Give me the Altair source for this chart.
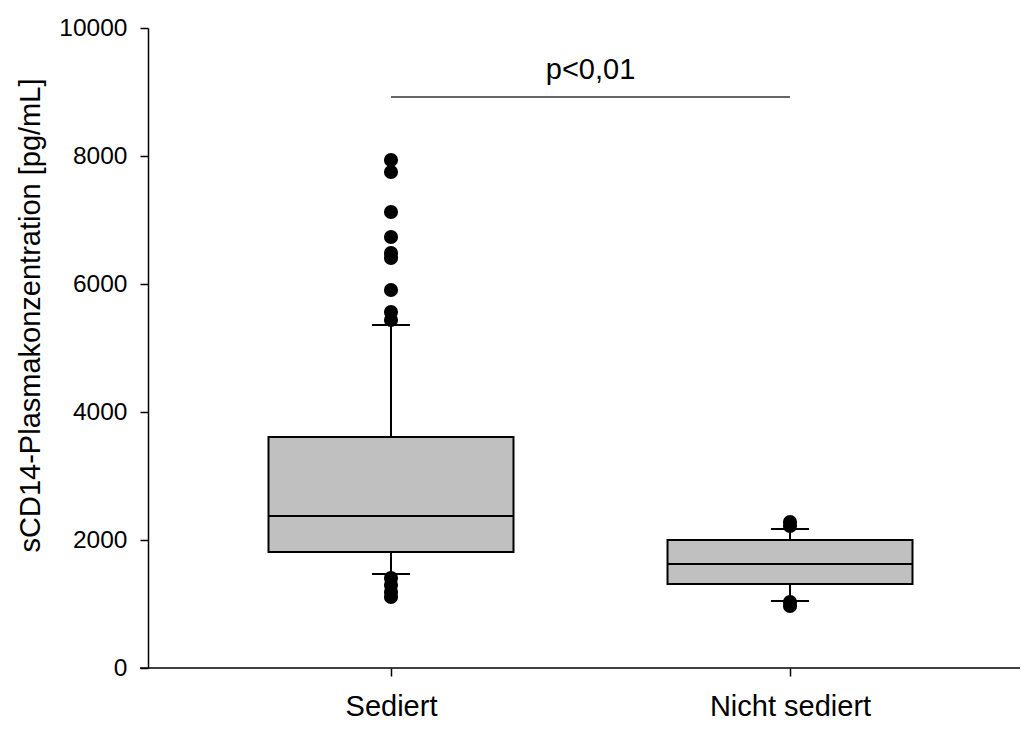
import altair as alt
import pandas as pd

# Group labels and box statistics (pg/mL)
categories = ["Sediert", "Nicht sediert"]
positions = [1, 2]
q1 = [1812, 1312]
median = [2375, 1625]
q3 = [3609, 2000]
whisker_low = [1469, 1047]
whisker_high = [5359, 2172]

# Values beyond the whiskers
outliers_sediert = [7938, 7750, 7125, 6734, 6484, 6406, 5906, 5563, 5438,
                    1406, 1297, 1188, 1109]
outliers_nicht_sediert = [2281, 2219, 1031, 969]

# Significance bracket
p_label = "p<0,01"
bracket_y = 8922
p_label_y = 9340

BOX_HALF = 0.307
X_DOMAIN = [0.391, 2.5764]
FONT = "Liberation Sans"

boxes = pd.DataFrame({
    "group": categories,
    "pos": positions,
    "left": [p - BOX_HALF for p in positions],
    "right": [p + BOX_HALF for p in positions],
    "q1": q1,
    "median": median,
    "q3": q3,
    "lo": whisker_low,
    "hi": whisker_high,
})

outliers = pd.DataFrame({
    "pos": [positions[0]] * len(outliers_sediert) + [positions[1]] * len(outliers_nicht_sediert),
    "value": outliers_sediert + outliers_nicht_sediert,
})

bracket = pd.DataFrame({"x1": [positions[0]], "x2": [positions[1]], "y": [bracket_y],
                        "xm": [(positions[0] + positions[1]) / 2], "ym": [p_label_y],
                        "label": [p_label]})

xscale = alt.Scale(domain=X_DOMAIN, nice=False, zero=False)
yscale = alt.Scale(domain=[0, 10000], nice=False)

label_expr = " : ".join(
    [f"datum.value == {p} ? '{c}'" for p, c in zip(positions, categories)]
) + " : ''"

x_axis = alt.Axis(
    values=positions, labelExpr=label_expr, title=None, grid=False,
    domain=False, ticks=True, tickSize=8, tickColor="#000", tickWidth=1.5,
    labelFontSize=29, labelFont=FONT, labelColor="#000", labelPadding=16,
)
y_axis = alt.Axis(
    values=[0, 2000, 4000, 6000, 8000, 10000], format="d", grid=False,
    domainColor="#000", domainWidth=1.5, tickSize=8, tickColor="#000", tickWidth=1.5,
    labelFontSize=24.5, labelFont=FONT, labelColor="#000", labelPadding=13,
    title="sCD14-Plasmakonzentration [pg/mL]", titleFont=FONT, titleFontSize=29,
    titleFontWeight="normal", titleColor="#000", titleAngle=270,
    titleX=-118, titleY=287, titleAlign="center", titleBaseline="middle",
)

base = alt.Chart(boxes)

whiskers = base.mark_rule(color="#000", strokeWidth=2).encode(
    x=alt.X("pos:Q", scale=xscale, axis=x_axis),
    y=alt.Y("lo:Q", scale=yscale, axis=y_axis),
    y2="hi:Q",
)

box = base.mark_rect(fill="#c0c0c0", stroke="#000", strokeWidth=2).encode(
    x=alt.X("left:Q", scale=xscale),
    x2="right:Q",
    y=alt.Y("q1:Q", scale=yscale),
    y2="q3:Q",
)

median_line = base.mark_rule(color="#000", strokeWidth=2).encode(
    x=alt.X("left:Q", scale=xscale),
    x2="right:Q",
    y=alt.Y("median:Q", scale=yscale),
)

cap_low = base.mark_rule(color="#000", strokeWidth=2, xOffset=-19, x2Offset=19).encode(
    x=alt.X("pos:Q", scale=xscale),
    x2="pos:Q",
    y=alt.Y("lo:Q", scale=yscale),
)
cap_high = base.mark_rule(color="#000", strokeWidth=2, xOffset=-19, x2Offset=19).encode(
    x=alt.X("pos:Q", scale=xscale),
    x2="pos:Q",
    y=alt.Y("hi:Q", scale=yscale),
)

points = alt.Chart(outliers).mark_circle(color="#000", opacity=1, size=200).encode(
    x=alt.X("pos:Q", scale=xscale),
    y=alt.Y("value:Q", scale=yscale),
)

bracket_line = alt.Chart(bracket).mark_rule(color="#333", strokeWidth=1.5).encode(
    x=alt.X("x1:Q", scale=xscale),
    x2="x2:Q",
    y=alt.Y("y:Q", scale=yscale),
)
bracket_text = alt.Chart(bracket).mark_text(
    font=FONT, fontSize=29, color="#000", baseline="middle", align="center"
).encode(
    x=alt.X("xm:Q", scale=xscale),
    y=alt.Y("ym:Q", scale=yscale),
    text="label:N",
)

# Horizontal axis line, running slightly past the vertical axis
baseline = alt.Chart(bracket).mark_rule(color="#000", strokeWidth=1.5).encode(
    x=alt.value(-8), x2=alt.value(872), y=alt.value(640)
)

chart = alt.layer(
    whiskers, box, median_line, cap_low, cap_high, points,
    bracket_line, bracket_text, baseline,
).properties(
    width=872, height=640,
    padding={"left": 148, "top": 28, "right": 7, "bottom": 61},
    autosize="none",
    background="white",
).configure_view(stroke=None)

chart.save("out.html", embed_options={"renderer": "svg", "actions": False})
